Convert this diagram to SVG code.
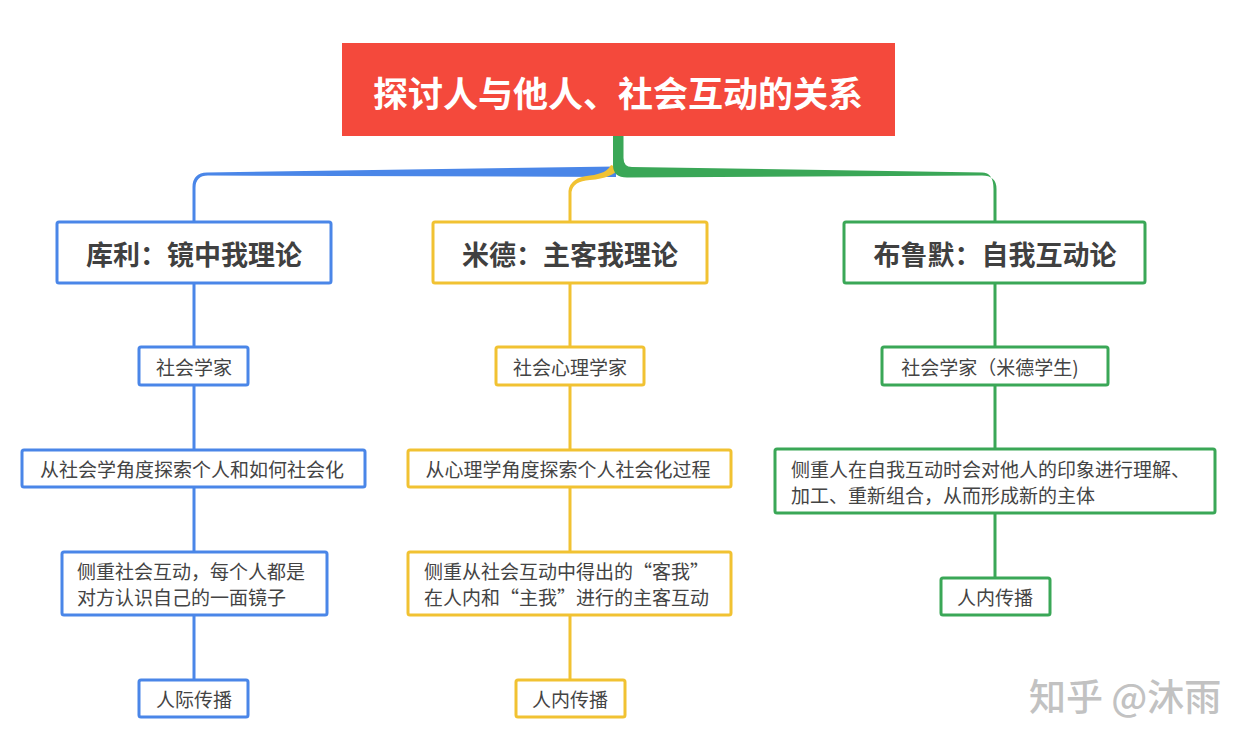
<svg xmlns="http://www.w3.org/2000/svg" width="1258" height="745" viewBox="0 0 1258 745">
<style>
text{font-family:"Noto Sans CJK SC","Microsoft YaHei",sans-serif;dominant-baseline:central}
.b{fill:#fff;stroke:#4A86E8;stroke-width:3}
.y{fill:#fff;stroke:#F1C232;stroke-width:3}
.g{fill:#fff;stroke:#3AA757;stroke-width:3}
.t1{font-size:27px;font-weight:bold;fill:#404040;text-anchor:middle}
.t{font-size:19px;fill:#444;text-anchor:middle}
.tl{font-size:19px;fill:#444}
.lb{stroke:#4A86E8;stroke-width:3;fill:none}
.ly{stroke:#F1C232;stroke-width:3;fill:none}
.lg{stroke:#3AA757;stroke-width:3;fill:none}
</style>
<rect width="1258" height="745" fill="#fff"/>
<g id="connectors">
<path fill="#4A86E8" d="M616 166.5 L207 172.5 Q192.5 173 192.5 187 L192.5 222 L195.5 222 L195.5 188 Q195.5 175.5 208 175.5 L616 177 Z"/>
<path fill="#F1C232" d="M611 165 Q607 173.5 590 175.5 Q570 177.5 568.5 191 L568.5 222 L571.5 222 L571.5 192 Q573 181 590 180 Q613 178 619 168 Z"/>
<path fill="#3AA757" d="M613 136 L613 165 Q613 177.5 627 177.5 L982 175.5 Q996.5 175.5 996.5 189 L996.5 222 L993.5 222 L993.5 189 Q993.5 172.5 982 172.5 L632 167 Q623.5 167 623.5 158 L623.5 136 Z"/>
<path class="lb" d="M194 283V347M194 385V450M194 487V552M194 615V680"/>
<path class="ly" d="M570 283V347M570 385V450M570 487V552M570 615V680"/>
<path class="lg" d="M995 283V347M995 385V449M995 513V578"/>
</g>
<g id="root">
<rect x="342" y="43" width="553" height="93" fill="#F4493C"/>
<text x="618" y="91" style="font-size:35px;font-weight:bold;fill:#fff;text-anchor:middle">探讨人与他人、社会互动的关系</text>
</g>
<g id="cooley">
<rect class="b" x="57" y="222" width="274" height="61" rx="2"/>
<text class="t1" x="194" y="253">库利：镜中我理论</text>
</g>
<g id="mead">
<rect class="y" x="433" y="222" width="274" height="61" rx="2"/>
<text class="t1" x="570" y="253">米德：主客我理论</text>
</g>
<g id="blumer">
<rect class="g" x="844" y="222" width="301" height="61" rx="2"/>
<text class="t1" x="995" y="253">布鲁默：自我互动论</text>
</g>
<g id="b1">
<rect class="b" x="139" y="347" width="109" height="38" rx="2"/>
<text class="t" x="194" y="366">社会学家</text>
</g>
<g id="y1">
<rect class="y" x="496" y="347" width="148" height="38" rx="2"/>
<text class="t" x="570" y="366">社会心理学家</text>
</g>
<g id="g1">
<rect class="g" x="882" y="347" width="226" height="38" rx="2"/>
<text class="t" x="990" y="366">社会学家（米德学生)</text>
</g>
<g id="b2">
<rect class="b" x="22" y="450" width="343" height="37" rx="2"/>
<text class="t" x="192" y="468.5">从社会学角度探索个人和如何社会化</text>
</g>
<g id="y2">
<rect class="y" x="408" y="450" width="323" height="37" rx="2"/>
<text class="t" x="568" y="468.5">从心理学角度探索个人社会化过程</text>
</g>
<g id="g2">
<rect class="g" x="775" y="449" width="440" height="64" rx="2"/>
<text class="tl" x="791" y="468">侧重人在自我互动时会对他人的印象进行理解、</text>
<text class="tl" x="791" y="494">加工、重新组合，从而形成新的主体</text>
</g>
<g id="b3">
<rect class="b" x="62" y="552" width="265" height="63" rx="2"/>
<text class="tl" x="77" y="570">侧重社会互动，每个人都是</text>
<text class="tl" x="77" y="596">对方认识自己的一面镜子</text>
</g>
<g id="y3">
<rect class="y" x="408" y="552" width="323" height="63" rx="2"/>
<text class="tl" x="424" y="570">侧重从社会互动中得出的“客我”</text>
<text class="tl" x="424" y="596">在人内和“主我”进行的主客互动</text>
</g>
<g id="g3">
<rect class="g" x="941" y="578" width="109" height="37" rx="2"/>
<text class="t" x="995" y="596.5">人内传播</text>
</g>
<g id="b4">
<rect class="b" x="139" y="680" width="109" height="37" rx="2"/>
<text class="t" x="194" y="698.5">人际传播</text>
</g>
<g id="y4">
<rect class="y" x="516" y="680" width="109" height="37" rx="2"/>
<text class="t" x="570" y="698.5">人内传播</text>
</g>
<text x="1029" y="695" style="font-size:37px;font-weight:500;fill:#c2c2c2">知乎 @沐雨</text>
</svg>
